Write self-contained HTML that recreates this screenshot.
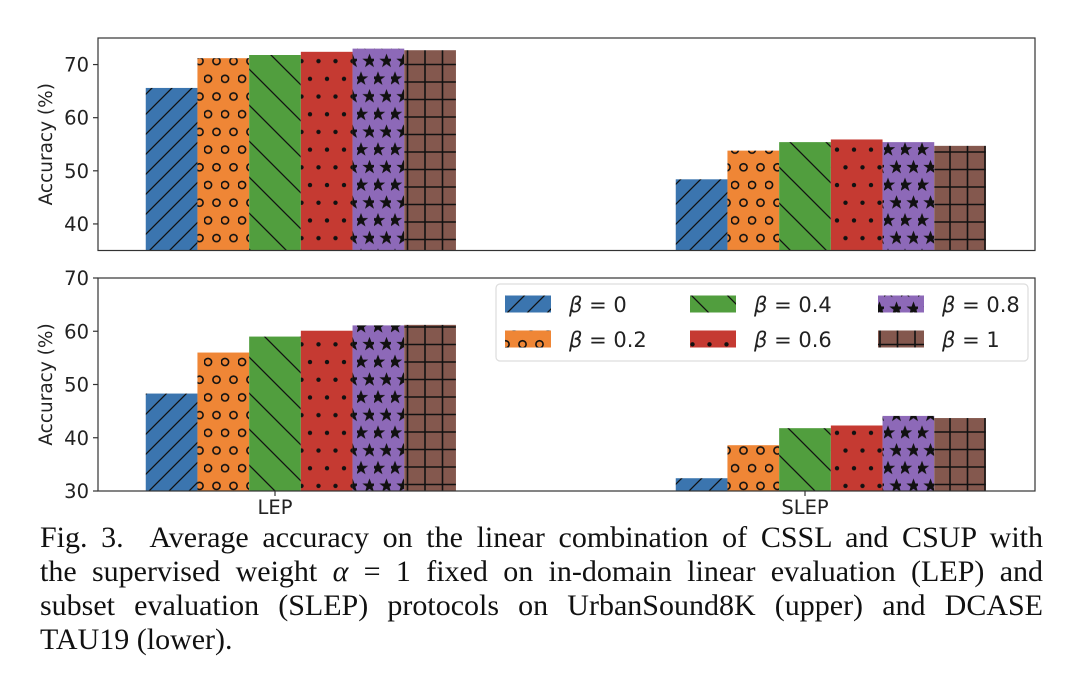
<!DOCTYPE html>
<html><head><meta charset="utf-8"><style>
html,body{margin:0;padding:0;background:#fff;width:1080px;height:689px;overflow:hidden;position:relative}
svg text{font-family:"DejaVu Sans","Liberation Sans",sans-serif;fill:#222}
#cap{position:absolute;left:40px;top:521px;width:1003px;font-family:"Liberation Serif",serif;font-size:30px;line-height:34px;color:#111}
#cap div{text-align:justify;text-align-last:justify;white-space:nowrap}
#cap div.last{text-align-last:left}
</style></head><body>
<svg id="fig" width="1080" height="689" viewBox="0 0 1080 689" xmlns="http://www.w3.org/2000/svg" style="position:absolute;left:0;top:0">
<defs>
<pattern id="p0" patternUnits="userSpaceOnUse" width="20" height="20"><rect width="20" height="20" fill="#3b75af"/><path d="M-5,5 L5,-5 M0,20 L20,0 M15,25 L25,15" stroke="#111" stroke-width="1.3"/></pattern>
<pattern id="p1" patternUnits="userSpaceOnUse" width="17" height="35.4"><rect width="17" height="35.4" fill="#ef8636"/><circle cx="4" cy="8" r="3.6" fill="none" stroke="#111" stroke-width="1.6"/><circle cx="12.5" cy="25.7" r="3.6" fill="none" stroke="#111" stroke-width="1.6"/></pattern>
<pattern id="p2" patternUnits="userSpaceOnUse" width="36" height="36"><rect width="36" height="36" fill="#519e3e"/><path d="M-9,-9 L45,45 M-9,27 L9,45 M27,-9 L45,9" stroke="#111" stroke-width="1.3"/></pattern>
<pattern id="p3" patternUnits="userSpaceOnUse" width="17" height="35.4"><rect width="17" height="35.4" fill="#c53a32"/><circle cx="4" cy="8" r="2.2" fill="#111"/><circle cx="12.5" cy="25.7" r="2.2" fill="#111"/></pattern>
<pattern id="p4" patternUnits="userSpaceOnUse" width="17" height="35.4"><rect width="17" height="35.4" fill="#8d69b8"/><path id="st" d="M0,-7.5 L1.9,-2.4 L7.2,-2.4 L2.9,0.9 L4.5,6.1 L0,3 L-4.5,6.1 L-2.9,0.9 L-7.2,-2.4 L-1.9,-2.4Z" fill="#111" transform="translate(4,8)"/><use href="#st" transform="translate(8.5,17.7)"/></pattern>
<pattern id="p5" patternUnits="userSpaceOnUse" width="17.5" height="17.5"><rect width="17.5" height="17.5" fill="#84584e"/><path d="M5,0 V17.5 M0,12 H17.5" stroke="#111" stroke-width="1.6"/></pattern>
</defs>
<g id="plots"></g>
</svg>
<div id="cap">
<div>Fig. 3.&nbsp; Average accuracy on the linear combination of CSSL and CSUP with</div>
<div>the supervised weight <i>α</i> = 1 fixed on in-domain linear evaluation (LEP) and</div>
<div>subset evaluation (SLEP) protocols on UrbanSound8K (upper) and DCASE</div>
<div class="last">TAU19 (lower).</div>
</div>
<script>
const categories = ["LEP", "SLEP"];
const betaLabels = ["0", "0.2", "0.4", "0.6", "0.8", "1"];
const upperValues = [[65.6, 48.4],[71.2, 53.8],[71.8, 55.4],[72.4, 55.9],[73.0, 55.4],[72.7, 54.7]];
const lowerValues = [[48.3, 32.4],[56.0, 38.6],[59.0, 41.8],[60.1, 42.3],[61.1, 44.1],[61.2, 43.7]];
const upperTicks = [40, 50, 60, 70];
const lowerTicks = [30, 40, 50, 60, 70];

const NS = "http://www.w3.org/2000/svg";
const root = document.getElementById("plots");
function mk(tag, attrs, parent) {
  const e = document.createElementNS(NS, tag);
  for (const k in attrs) e.setAttribute(k, attrs[k]);
  (parent || root).appendChild(e);
  return e;
}
const X0 = 98, X1 = 1035, barW = 51.7;
const groupCenter = i => 275 + i * 530;
function drawPanel(name, top, bottom, ymin, ymax, values, ticks, showX) {
  const g = mk("g", {});
  
  
  const y = v => bottom - (v - ymin) / (ymax - ymin) * (bottom - top);
  for (let s = 0; s < values.length; s++) {
    for (let c = 0; c < categories.length; c++) {
      const x = groupCenter(c) + (s - 2.5) * barW;
      const yt = y(values[s][c]);
      const r = mk("rect", {x: x, y: yt, width: barW, height: bottom - yt, fill: "url(#p" + s + ")"}, g);
      
      
    }
  }
  const frame = mk("rect", {x: X0, y: top, width: X1 - X0, height: bottom - top, fill: "none", stroke: "#333", "stroke-width": 1.2}, g);
  
  
  for (const t of ticks) {
    mk("line", {x1: X0 - 5, x2: X0, y1: y(t), y2: y(t), stroke: "#333", "stroke-width": 1.2}, g);
    const tx = mk("text", {x: X0 - 9, y: y(t) + 7, "text-anchor": "end", "font-size": 19.5}, g);
    tx.textContent = t;
    
    
  }
  const yl = mk("text", {x: 0, y: 0, "text-anchor": "middle", "font-size": 18.5, transform: "translate(52," + ((top + bottom) / 2) + ") rotate(-90)"}, g);
  yl.textContent = "Accuracy (%)";
  
  
  if (showX) {
    for (let c = 0; c < categories.length; c++) {
      mk("line", {x1: groupCenter(c), x2: groupCenter(c), y1: bottom, y2: bottom + 5, stroke: "#333", "stroke-width": 1.2}, g);
      const tx = mk("text", {x: groupCenter(c), y: bottom + 23, "text-anchor": "middle", "font-size": 19.5}, g);
      tx.textContent = categories[c];
      
      
    }
  }
}
drawPanel("upper-chart", 38, 250.5, 35, 75, upperValues, upperTicks, false);
drawPanel("lower-chart", 278, 491, 30, 70, lowerValues, lowerTicks, true);

// legend
const lg = mk("g", {});


mk("rect", {x: 496, y: 284, width: 532, height: 77, rx: 4, fill: "#fff", "fill-opacity": 0.85, stroke: "#ddd", "stroke-width": 1.2}, lg);
const colX = [505, 690, 878], rowY = [304, 339];
for (let s = 0; s < betaLabels.length; s++) {
  const col = Math.floor(s / 2), row = s % 2;
  const e = mk("g", {}, lg);
  
  
  mk("rect", {x: colX[col], y: rowY[row] - 8.5, width: 46, height: 17, fill: "url(#p" + s + ")"}, e);
  const t = mk("text", {x: colX[col] + 64, y: rowY[row] + 8, "font-size": 21}, e);
  t.innerHTML = '<tspan font-style="italic">β</tspan> = ' + betaLabels[s];
}
</script>
</body></html>
